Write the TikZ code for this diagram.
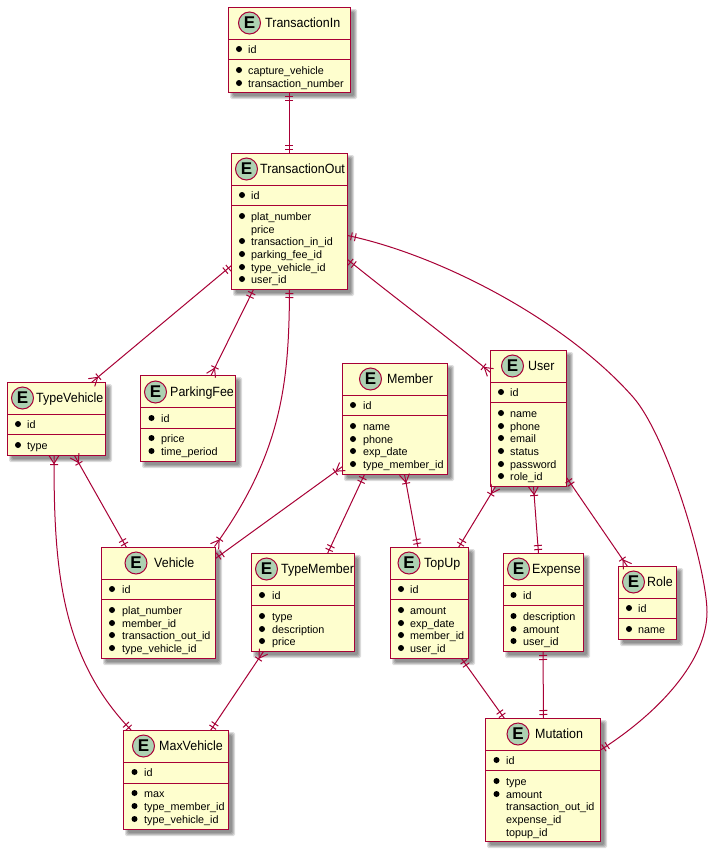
\documentclass[tikz,border=0pt]{standalone}
\usepackage{fontspec}
\setmainfont{Liberation Sans}
\newfontfamily\enttitlefont[FakeStretch=0.93]{Liberation Sans}
\usetikzlibrary{calc,decorations.markings}
\definecolor{uborder}{HTML}{A80036}
\definecolor{ufill}{HTML}{FEFECE}
\definecolor{ucirc}{HTML}{ADD1B2}
\tikzset{
  x=1pt,y=-1pt,
  entbox/.style={draw=uborder,fill=ufill,line width=1.5pt,rectangle,inner sep=0pt,outer sep=0pt,anchor=north west},
  entdiv/.style={draw=uborder,line width=1.5pt},
  entspot/.style={circle,draw=uborder,fill=ucirc,line width=1pt,minimum size=22pt,inner sep=0pt,font=\fontsize{17}{17}\selectfont\bfseries},
  enttitle/.style={anchor=base west,inner sep=0pt,font=\enttitlefont\fontsize{13.4}{14}\selectfont},
  entrow/.style={anchor=base west,inner sep=0pt,font=\fontsize{10.8}{11}\selectfont},
  entdot/.style={circle,fill=black,minimum size=6pt,inner sep=0pt},
  rel/.style={draw=uborder,line width=1pt},
  tick/.style={draw=uborder,line width=1pt},
  startone/.style={postaction={decorate,decoration={markings,
    mark=at position 4pt with {\draw[tick] (0,-4)--(0,4);},
    mark=at position 8pt with {\draw[tick] (0,-4)--(0,4);}}}},
  endone/.style={postaction={decorate,decoration={markings,
    mark=at position -8pt with {\draw[tick] (0,-4)--(0,4);},
    mark=at position -4pt with {\draw[tick] (0,-4)--(0,4);}}}},
  startmany/.style={postaction={decorate,decoration={markings,
    mark=at position 8pt with {\draw[tick] (-8,-5)--(0,0)--(-8,5);},
    mark=at position 9pt with {\draw[tick] (0,-4)--(0,4);}}}},
  endmany/.style={postaction={decorate,decoration={markings,
    mark=at position -9pt with {\draw[tick] (0,-4)--(0,4);},
    mark=at position -8pt with {\draw[tick] (8,-5)--(0,0)--(8,5);}}}},
}
% name x1 y1 x2 y2 div1 div2
\newcommand{\entframe}[7]{%
  \foreach \ee in {2.5,1.5,0.5,-0.5}{%
    \fill[black,opacity=0.13,rounded corners=1.5pt] ({#2+4-\ee},{#3+4-\ee}) rectangle ({#4+4+\ee},{#5+4+\ee});
  }%
  \node[entbox,minimum width={(#4-#2)*1pt},minimum height={(#5-#3)*1pt}] (#1) at (#2,#3) {};
  \draw[entdiv] (#1.west |- 0,#6) -- (#1.east |- 0,#6);
  \draw[entdiv] (#1.west |- 0,#7) -- (#1.east |- 0,#7);
}
% name cx cy title tx
\newcommand{\enthead}[5]{%
  \node[entspot] (#1-spot) at (#2,#3) {E};
  \node[enttitle] (#1-title) at (#5,#3+4.5) {#4};
}
% name dotx textx rows{y/text/dot(1|0)}
\newcommand{\entrows}[4]{%
  \foreach \yy/\txt/\dd [count=\ii] in {#4}{%
    \node[entrow] (#1-row\ii) at (#3,\yy+4) {\txt};
    \ifnum\dd=1 \node[entdot] (#1-dot\ii) at (#2,\yy) {};\fi
  }%
}
\begin{document}
\begin{tikzpicture}
\useasboundingbox (0,0) rectangle (721,854);
\fill[white] (0,0) rectangle (721,854);

\entframe{tin}{228.5}{7.5}{350.5}{92.5}{39.5}{59.5}
\enthead{tin}{249.5}{23}{TransactionIn}{265}
\entrows{tin}{239}{248}{49/id/1,70/capture\_vehicle/1,83/transaction\_number/1}

\entframe{tout}{231.5}{153.5}{347.5}{289.5}{185.5}{205.5}
\enthead{tout}{246.5}{169}{TransactionOut}{260}
\entrows{tout}{242}{251}{195/id/1,216/plat\_number/1,229/price/0,241/transaction\_in\_id/1,254/parking\_fee\_id/1,267/type\_vehicle\_id/1,279/user\_id/1}

\entframe{tv}{7.5}{382.5}{105.5}{455.5}{414.5}{434.5}
\enthead{tv}{22.5}{398}{TypeVehicle}{36}
\entrows{tv}{18}{27}{424/id/1,445/type/1}

\entframe{pf}{140.5}{375.5}{235.5}{461.5}{407.5}{428.5}
\enthead{pf}{155.5}{392}{ParkingFee}{170}
\entrows{pf}{151.5}{161}{418/id/1,438/price/1,451/time\_period/1}

\entframe{member}{342.5}{363.5}{447.5}{474.5}{395.5}{415.5}
\enthead{member}{370.5}{379}{Member}{387}
\entrows{member}{353}{363}{405/id/1,426/name/1,439/phone/1,451/exp\_date/1,464/type\_member\_id/1}

\entframe{user}{490.5}{350.5}{566.5}{486.5}{382.5}{402.5}
\enthead{user}{512.5}{366}{User}{528}
\entrows{user}{501}{510}{392/id/1,413/name/1,426/phone/1,438/email/1,451/status/1,464/password/1,476/role\_id/1}

\entframe{vehicle}{101.5}{547.5}{215.5}{658.5}{579.5}{599.5}
\enthead{vehicle}{136}{563}{Vehicle}{154}
\entrows{vehicle}{112}{122}{589/id/1,610/plat\_number/1,623/member\_id/1,635/transaction\_out\_id/1,648/type\_vehicle\_id/1}

\entframe{tm}{251.5}{553.5}{354.5}{651.5}{585.5}{605.5}
\enthead{tm}{266.5}{569}{TypeMember}{281}
\entrows{tm}{262}{272}{595/id/1,616/type/1,629/description/1,641/price/1}

\entframe{topup}{390.5}{547.5}{468.5}{658.5}{579.5}{599.5}
\enthead{topup}{409}{563}{TopUp}{424}
\entrows{topup}{401}{410}{589/id/1,610/amount/1,623/exp\_date/1,635/member\_id/1,648/user\_id/1}

\entframe{expense}{503.5}{553.5}{583.5}{651.5}{585.5}{605.5}
\enthead{expense}{518.5}{569}{Expense}{532}
\entrows{expense}{513.5}{523}{595/id/1,616/description/1,629/amount/1,641/user\_id/1}

\entframe{role}{618.5}{566.5}{676.5}{639.5}{598.5}{618.5}
\enthead{role}{633.5}{582}{Role}{647}
\entrows{role}{629}{638}{608/id/1,629/name/1}

\entframe{maxv}{123.5}{730.5}{228.5}{829.5}{762.5}{783.5}
\enthead{maxv}{143.5}{746}{MaxVehicle}{159}
\entrows{maxv}{134.5}{144}{772/id/1,793/max/1,806/type\_member\_id/1,819/type\_vehicle\_id/1}

\entframe{mut}{485.5}{718.5}{600.5}{841.5}{750.5}{770.5}
\enthead{mut}{518}{734}{Mutation}{535}
\entrows{mut}{496.5}{506}{760/id/1,781/type/1,794/amount/1,806/transaction\_out\_id/0,819/expense\_id/0,832/topup\_id/0}

% connectors (offsets measured from box corners)
\draw[rel,startone,endone] ($(tin.south west)+(60.5,0)$) -- ($(tout.north west)+(57.5,0)$);
\draw[rel,startone,endmany] ($(tout.north west)+(0,112)$) -- ($(tv.north west)+(84,0)$);
\draw[rel,startone,endmany] ($(tout.south west)+(22,0)$) -- ($(pf.north west)+(70.5,0)$);
\draw[rel,startone,endmany] ($(tout.south west)+(58,0)$) .. controls (289,380) and (283,452) .. ($(vehicle.north east)+(-1,-1)$);
\draw[rel,startone,endmany] ($(tout.north east)+(0,106)$) .. controls (395,298) and (445,335) .. ($(user.north west)+(0,22)$);
\draw[rel,startone,endone] ($(tout.north east)+(0,82)$) .. controls (440,255) and (565,320) .. (633,397) .. controls (668,437) and (707,570) .. (707,612) .. controls (707,660) and (660,712) .. ($(mut.north east)+(0,31.5)$);
\draw[rel,startmany,endone] ($(tv.south west)+(67,0)$) -- ($(vehicle.north west)+(25,0)$);
\draw[rel,startmany,endone] ($(tv.south west)+(46.5,0)$) .. controls (54,560) and (58,655) .. ($(maxv.north west)+(8,0)$);
\draw[rel,startmany,endone] ($(member.north west)+(0,103)$) -- ($(vehicle.north east)+(0,11)$);
\draw[rel,startone,endone] ($(member.south west)+(22,0)$) -- ($(tm.north west)+(76,0)$);
\draw[rel,startmany,endone] ($(member.south west)+(62,0)$) -- ($(topup.north west)+(27.5,0)$);
\draw[rel,startmany,endone] ($(user.south west)+(5,0)$) -- ($(topup.north east)+(-10,0)$);
\draw[rel,startmany,endone] ($(user.south west)+(43,0)$) -- ($(expense.north west)+(35,0)$);
\draw[rel,startone,endmany] ($(user.south east)+(0,-9)$) -- ($(role.north west)+(9,0)$);
\draw[rel,startmany,endone] ($(tm.south west)+(12,0)$) -- ($(maxv.north east)+(-18,0)$);
\draw[rel,startone,endone] ($(topup.south east)+(-7,0)$) -- ($(mut.north west)+(19,0)$);
\draw[rel,startone,endone] ($(expense.south west)+(39.5,0)$) -- ($(mut.north west)+(58,0)$);
\end{tikzpicture}
\end{document}
